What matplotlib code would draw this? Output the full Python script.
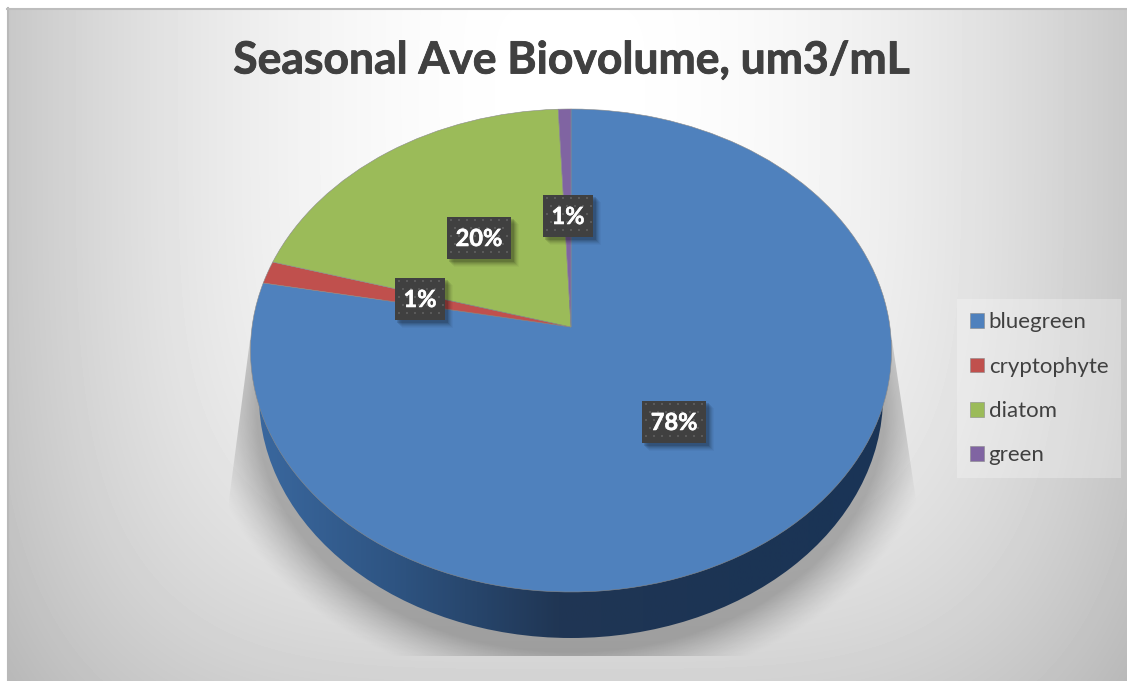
import numpy as np
import matplotlib
matplotlib.use("Agg")
import matplotlib.pyplot as plt
import matplotlib.patheffects as pe
from matplotlib.patches import Ellipse, Rectangle, Polygon
from matplotlib.path import Path
from matplotlib.transforms import Transform
from matplotlib.colors import LinearSegmentedColormap

# ---- data ----
categories = ["bluegreen", "cryptophyte", "diatom", "green"]
values = [78.0, 1.5, 19.8, 0.7]
pct_labels = ["78%", "1%", "20%", "1%"]
colors = ["#4f81bd", "#c0504d", "#9bbb59", "#8064a2"]
title = "Seasonal Ave Biovolume, um3/mL"

# ---- layout (pixels) ----
W, H = 1127, 681
APEX = (571.0, 327.0)
K, RX, RY = 0.0973, 319.0, 239.2
label_boxes = [(642, 401, 64, 42), (395, 278, 50, 42), (447, 217, 64, 42), (543, 195, 50, 42)]
DEPTH_CY, DEPTH_RX, DEPTH_RY = 396.5, 312.0, 241.5
plt.rcParams["font.family"] = ["Lato", "DejaVu Sans"]


class Perspective(Transform):
    """Tilts the unit pie disc into the reference's perspective view."""
    input_dims = output_dims = 2

    def transform_non_affine(self, v):
        v = np.asarray(v, float)
        d = 1 + K * v[:, 1]
        return np.column_stack([APEX[0] + RX * v[:, 0] / d, APEX[1] - RY * v[:, 1] / d])

    def transform_path_non_affine(self, path):
        return Path(self.transform_non_affine(path.vertices), path.codes)


fig = plt.figure(figsize=(W / 100, H / 100), dpi=100, facecolor="white")
ax = fig.add_axes([0, 0, 1, 1])

wedges, _ = ax.pie(values, colors=colors, startangle=90, counterclock=False,
                   wedgeprops=dict(linewidth=0.4, edgecolor="#8a8a8a"))
persp = Perspective() + ax.transData
for w in wedges:
    w.set_transform(persp)
    w.set_zorder(5)

yy, xx = np.mgrid[0:H, 0:W] + 0.5

# chart-area background
D = (((xx - 570) / 560) ** 4 + ((yy - 90) / 656) ** 4) ** 0.25
g = np.clip(255 - 55 * D ** 2, 0, 255) / 255
bg = ax.imshow(g, cmap="gray", vmin=0, vmax=1, extent=(0, W, H, 0), zorder=0,
               interpolation="bilinear", aspect="auto")
bg.set_clip_path(Rectangle((7, 8), W - 7, H - 8, transform=ax.transData))
ax.plot([8, 8], [8, H], color="#b9b9b9", lw=1.5, zorder=1)
ax.plot([7, W], [8.5, 8.5], color="#bdbdbd", lw=1.5, zorder=1)

# pie shadow
n = np.sqrt(((xx - 571) / (DEPTH_RX + 2)) ** 2 + ((yy - (DEPTH_CY + 14)) / DEPTH_RY) ** 2)
dist = np.clip((n - 1) * 250, 0, None)
alpha = 0.27 * np.clip(1 - dist / 42, 0, 1) ** 1.3
rgba = np.zeros((H, W, 4))
rgba[..., 3] = alpha
sh = ax.imshow(rgba, extent=(0, W, H, 0), zorder=2, aspect="auto", interpolation="bilinear")
sh.set_clip_path(Polygon([(250, 340), (892, 340), (916, 500), (916, 656), (229, 656), (229, 500)],
                         closed=True, transform=ax.transData))

# pie side wall
side_cmap = LinearSegmentedColormap.from_list(
    "side", [(0, "#3a689f"), (0.22, "#2e5482"), (0.48, "#203654"), (0.75, "#1c3454"), (1, "#1a3457")])
grad = np.linspace(0, 1, 512)[None, :]
side = ax.imshow(grad, cmap=side_cmap, extent=(255, 887, 700, 300), zorder=3, aspect="auto")
side.set_clip_path(Ellipse((571, DEPTH_CY), 2 * DEPTH_RX, 2 * DEPTH_RY, transform=ax.transData))

# data labels
for (x, y, w, h), txt in zip(label_boxes, pct_labels):
    for off, a in [(8, 0.03), (7, 0.04), (6, 0.06), (5, 0.07), (4, 0.09), (3, 0.12)]:
        ax.add_patch(Rectangle((x + off - 1, y + off - 1), w + 1, h + 1, fc="black", ec="none", alpha=a, zorder=6))
    ax.add_patch(Rectangle((x, y), w, h, fc="#404040", ec="none", zorder=7))
    gx, gy = np.meshgrid(np.arange(x + 4, x + w, 8), np.arange(y + 3, y + h, 8))
    gx = gx + (np.arange(gx.shape[0])[:, None] % 2) * 4
    keep = gx < x + w - 1
    ax.scatter(gx[keep], gy[keep], s=4, marker="s", c="#5a5a5a", linewidths=0, zorder=8)
    ax.text(x + w / 2, y + h / 2 + 0.5, txt, color="white", fontsize=17, fontweight="bold",
            ha="center", va="center", zorder=9,
            path_effects=[pe.withStroke(linewidth=0.4, foreground="white")])

ax.text(572, 60.5, title, color="#404040", fontsize=32, fontweight="bold", ha="center", va="center", zorder=9,
        path_effects=[pe.withStroke(linewidth=0.6, foreground="#404040")])

fs = 16
px = fs * 100 / 72
leg = ax.legend(wedges, categories, loc="upper left", bbox_to_anchor=(957, 299.5), bbox_transform=ax.transData,
                fontsize=fs, frameon=True, fancybox=False, facecolor="white", edgecolor="none", framealpha=0.27,
                handlelength=14 / px, handleheight=14 / px, handletextpad=5 / px, labelspacing=1.1,
                borderaxespad=0, borderpad=0.57, labelcolor="#404040")
leg.set_zorder(9)

ax.set_xlim(0, W)
ax.set_ylim(H, 0)
ax.set_aspect("auto")
ax.axis("off")
fig.savefig("out.png", dpi=100, facecolor="white")
